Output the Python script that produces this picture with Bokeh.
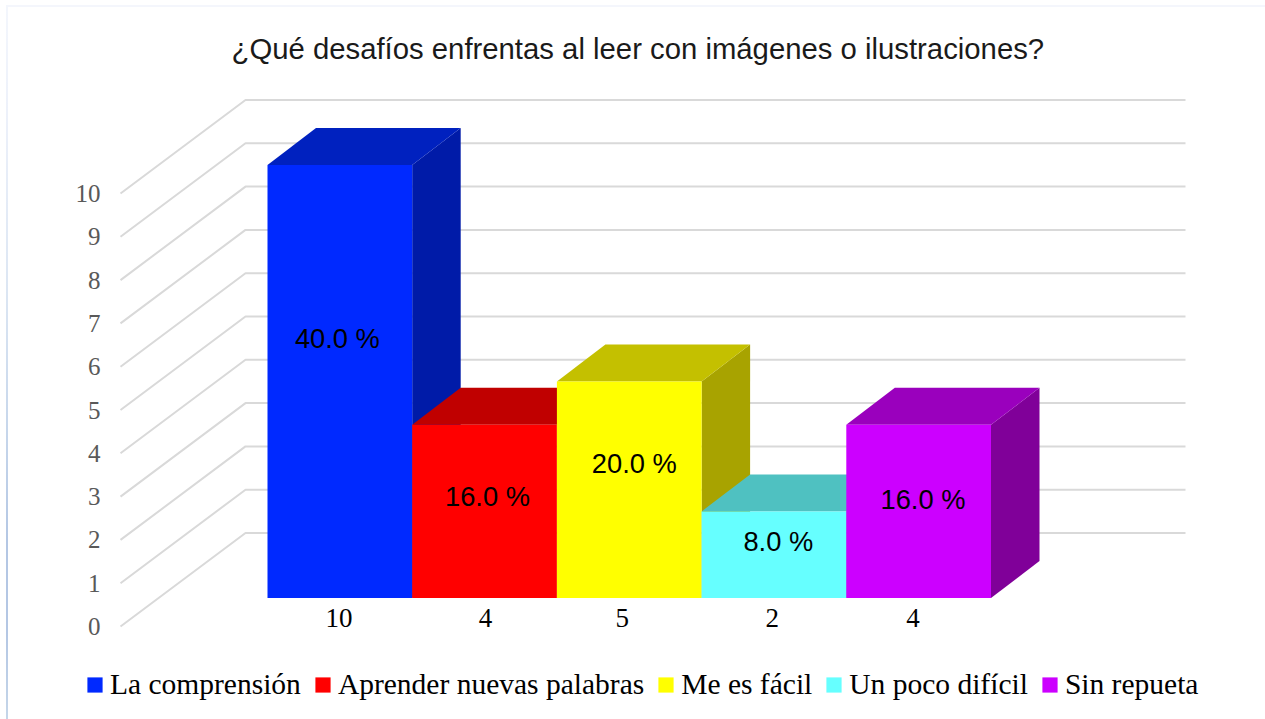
from bokeh.plotting import figure
from bokeh.models import (Range1d, LinearAxis, FixedTicker, Legend, LegendItem, Title)
from bokeh.core.properties import value
from bokeh.embed import file_html
from bokeh.resources import INLINE

# ---- data ----
title_text = "¿Qué desafíos enfrentas al leer con imágenes o ilustraciones?"
categories = ["La comprensión", "Aprender nuevas palabras", "Me es fácil", "Un poco difícil", "Sin repueta"]
counts = [10, 4, 5, 2, 4]
percent_labels = ["40.0 %", "16.0 %", "20.0 %", "8.0 %", "16.0 %"]
y_ticks = [0, 1, 2, 3, 4, 5, 6, 7, 8, 9, 10]

# ---- styles ----
front_colors = ["#0029FF", "#FF0000", "#FFFF00", "#66FFFF", "#CC00FF"]
top_colors = ["#0021BF", "#C00000", "#C4C000", "#4FC1C1", "#9A00BD"]
side_colors = ["#001BA8", "#A80000", "#A8A300", "#3FA8A8", "#800099"]
GRID = "#D9D9D9"
SERIF = "Liberation Serif"
SANS = "Liberation Sans"

# ---- geometry (picture pixels -> data) ----
W, H = 1265, 719
X0, XU = 267.0, 144.7      # x of bar 0's left edge, px per bar
Y0, YU = 597.5, 43.3       # y of the bar base, px per count
F_L, F_T, F_R, F_B = 60, 90, W, H

def dx(px): return (px - X0) / XU
def dy(py): return (Y0 - py) / YU

x_range = Range1d(dx(F_L), dx(F_R))
y_range = Range1d(dy(F_B), dy(F_T))

DEPTH_X, DEPTH_Y = 48.5 / XU, 37.0 / YU     # bar depth
WALL_FRONT_X, WALL_BACK_X, WALL_RIGHT_X = dx(120), dx(245), dx(1185)
WALL_FRONT_Y, WALL_BACK_Y = dy(626), dy(532.5)

# thin frame of the picture, fading towards the top; it shows through the transparent border
edge = ("linear-gradient(to bottom, #F3F6FC 0%, #EDF1FA 15%, #DCE6F3 40%, #C6D6EB 60%, "
        "#B4C7E4 75%, #B4C7E4 88%, #C5D6E9 100%) 6px 5px / 2px 714px no-repeat, "
        "linear-gradient(#F4F6FC, #F4F6FC) 6px 5px / 1259px 2px no-repeat")

p = figure(width=W, height=H, output_backend="svg", toolbar_location=None,
           x_range=x_range, y_range=y_range, x_axis_type=None, y_axis_type=None,
           min_border_left=F_L, min_border_right=0, min_border_top=F_T, min_border_bottom=0,
           background_fill_color="white", border_fill_color=None, outline_line_color=None,
           title=None, styles={"background": edge})
p.grid.visible = False

p.add_layout(Title(text=title_text, align="left", offset=231 - F_L, standoff=52,
                   text_font=SANS, text_font_size="29.3px", text_font_style="normal",
                   text_color="#1a1a1a"), "above")

# y axis on a range shifted to the front edge of the floor
p.extra_y_ranges["axis"] = Range1d(y_range.start - WALL_FRONT_Y, y_range.end - WALL_FRONT_Y)
axis = LinearAxis(y_range_name="axis", ticker=FixedTicker(ticks=y_ticks),
                  axis_line_color=None, major_tick_line_color=None, minor_tick_line_color=None,
                  major_label_text_font=SERIF, major_label_text_font_size="25px",
                  major_label_text_color="#595959", major_label_standoff=8,
                  fixed_location=dx(114))
p.add_layout(axis, "left")

# wall grid
gx, gy = [], []
for t in y_ticks:
    gx.append([WALL_FRONT_X, WALL_BACK_X, WALL_RIGHT_X])
    gy.append([WALL_FRONT_Y + t, WALL_BACK_Y + t, WALL_BACK_Y + t])
p.multi_line(gx, gy, line_color=GRID, line_width=2)

# bars
items = []
for i, (name, v) in enumerate(zip(categories, counts)):
    side_x = [i + 1, i + 1 + DEPTH_X, i + 1 + DEPTH_X, i + 1]
    side_y = [0, DEPTH_Y, v + DEPTH_Y, v]
    top_x = [i, i + 1, i + 1 + DEPTH_X, i + DEPTH_X]
    top_y = [v, v, v + DEPTH_Y, v + DEPTH_Y]
    p.patch(side_x, side_y, fill_color=side_colors[i], line_color=None)
    p.patch(top_x, top_y, fill_color=top_colors[i], line_color=None)
    r = p.quad(left=[i], right=[i + 1], bottom=[0], top=[v], fill_color=front_colors[i], line_color=None)
    items.append(LegendItem(label=name, renderers=[r]))

# labels in the bars and under them (hand-placed in the original)
pct_offset_x = [-0.017, 0.02, 0.035, 0.03, 0.03]
pct_y = [6.0, 2.34, 3.1, 1.3, 2.27]
p.text(x=[i + 0.5 + pct_offset_x[i] for i in range(5)], y=pct_y,
       text=percent_labels, text_align="center", text_baseline="middle",
       text_font=value(SANS), text_font_size="27.3px", text_color="#000000")

cnt_offset_x = [-0.006, 0.006, -0.048, -0.012, -0.039]
p.text(x=[i + 0.5 + cnt_offset_x[i] for i in range(5)],
       y=[dy(617.5)] * 5, text=[str(c) for c in counts],
       text_align="center", text_baseline="middle",
       text_font=value(SERIF), text_font_size="27px", text_color="#000000")

legend = Legend(items=items, orientation="horizontal", location=(25, 18),
                glyph_width=19, glyph_height=19, label_standoff=6, spacing=12,
                padding=0, margin=0, border_line_color=None, background_fill_alpha=0,
                label_text_font=SERIF, label_text_font_size="29.5px", label_text_color="#000000",
                click_policy="none")
p.add_layout(legend, "center")

open("out.html", "w").write(file_html(p, INLINE))
